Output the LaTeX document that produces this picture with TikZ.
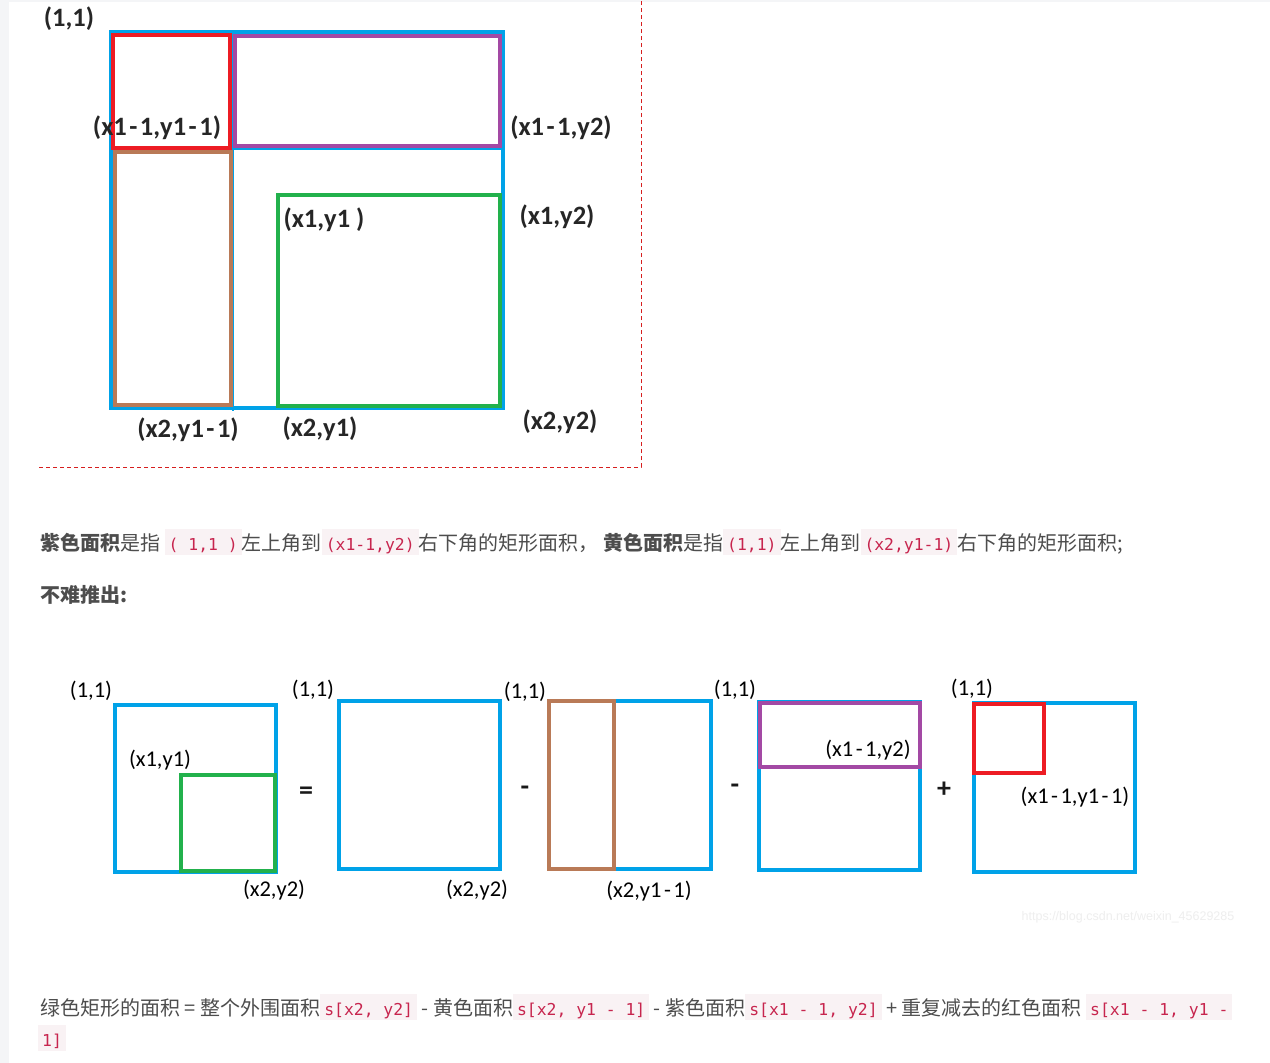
\documentclass[tikz,border=0pt]{standalone}
\usepackage{fontspec}
\setmainfont{Noto Sans CJK SC}
\newfontfamily\labelfont{Carlito}
\newfontfamily\codefont{DejaVu Sans Mono}
\newfontfamily\markfont{Liberation Sans}
\usetikzlibrary{calc}

\definecolor{paintblue}{RGB}{0,162,232}
\definecolor{paintred}{RGB}{237,28,36}
\definecolor{paintpurple}{RGB}{163,73,164}
\definecolor{paintbrown}{RGB}{185,122,87}
\definecolor{paintgreen}{RGB}{34,177,76}
\definecolor{txtgray}{RGB}{77,77,77}
\definecolor{codepink}{RGB}{199,37,78}
\definecolor{codebg}{RGB}{249,242,244}
\definecolor{stripgray}{RGB}{244,245,247}
\definecolor{markgray}{RGB}{238,238,238}
\definecolor{dashred}{RGB}{214,30,30}

\newcommand{\cd}[1]{{\setlength{\fboxsep}{0pt}\colorbox{codebg}{\hspace{4pt}\rule[-5pt]{0pt}{26pt}\textcolor{codepink}{\codefont\fontsize{16.4}{19}\selectfont #1}\hspace{4pt}}}}
\newcommand{\mh}{\kern2.5pt-\kern2.5pt}

\tikzset{
  blueedge/.style={draw=paintblue, line width=3.5pt},
  rededge/.style={draw=paintred, line width=3.5pt},
  purpleedge/.style={draw=paintpurple, line width=3.5pt},
  brownedge/.style={draw=paintbrown, line width=3.5pt},
  greenedge/.style={draw=paintgreen, line width=3.5pt},
  biglabel/.style={font=\labelfont\bfseries\fontsize{26.5}{30}\selectfont, text=black!85, inner sep=0pt},
  smalllabel/.style={font=\labelfont\fontsize{22.5}{26}\selectfont, text=black, inner sep=0pt},
  opsign/.style={font=\labelfont\bfseries\fontsize{28}{30}\selectfont, text=black!90, inner sep=0pt},
  textline/.style={font=\fontsize{20}{24}\selectfont, text=txtgray, inner sep=0pt, anchor=base west}
}

\begin{document}
\begin{tikzpicture}[x=1pt,y=-1pt]
    \useasboundingbox (0,0) rectangle (1270,1063);
    \fill[white] (0,0) rectangle (1270,1063);
    \fill[stripgray] (0,0) rectangle (9,1063);
    \fill[stripgray] (9,0) rectangle (1270,2);

    % big picture
    \draw[blueedge, line width=4pt] (111,32) rectangle (503,408);
    \draw[paintblue, line width=2pt] (233,32) -- (233,411);
    \draw[paintblue, line width=2.5pt] (231,149) -- (503,149);
    \draw[rededge] (113,35) rectangle (230,148);
    \draw[purpleedge] (235,36) rectangle (500,146);
    \draw[brownedge] (115,152) rectangle (231,405);
    \draw[greenedge] (278,195) rectangle (500,406);

    \node[biglabel] (topOne) at (69,19) {(1,1)};
    \node[biglabel] (topRed) at (157,128) {(x1\mh1,y1\mh1)};
    \node[biglabel] (topPurple) at (561,128) {(x1\mh1,y2)};
    \node[biglabel] (topGreen) at (324,220) {(x1,y1 )};
    \node[biglabel] (topRight) at (557,217) {(x1,y2)};
    \node[biglabel] (topBrown) at (188,430) {(x2,y1\mh1)};
    \node[biglabel] (topMid) at (320,429) {(x2,y1)};
    \node[biglabel] (topCorner) at (560,422) {(x2,y2)};

    \draw[dashred, line width=1pt, dash pattern=on 4pt off 3pt] (39,467) -- (641,467) -- (641,0);

    % text above the row
    \node[textline] (lineA) at (40,550) {\textbf{紫色面积}是指 \cd{( 1,1 )}左上角到\cd{(x1-1,y2)}右下角的矩形面积， \textbf{黄色面积}是指\cd{(1,1)}左上角到\cd{(x2,y1-1)}右下角的矩形面积;};
    \node[textline] (lineB) at (40,602) {\textbf{不难推出:}};

    % row of small pictures
    \draw[blueedge] (115,705) rectangle (276,872);
    \draw[greenedge] (181,775) rectangle (275,871);
    \node[smalllabel] (oneA) at (91,691) {(1,1)};
    \node[smalllabel] (startA) at (160,760) {(x1,y1)};
    \node[smalllabel] (endA) at (274,890) {(x2,y2)};
    \node[opsign] (eq) at (306,793) {=};

    \draw[blueedge] (339,701) rectangle (500,869);
    \node[smalllabel] (oneB) at (313,690) {(1,1)};
    \node[smalllabel] (endB) at (477,890) {(x2,y2)};
    \node[opsign] (minusA) at (525,791) {-};

    \draw[blueedge] (549,701) rectangle (711,869);
    \draw[brownedge] (549,701) rectangle (614,869);
    \node[smalllabel] (oneC) at (525,692) {(1,1)};
    \node[smalllabel] (endC) at (649,891) {(x2,y1\mh1)};
    \node[opsign] (minusB) at (735,789) {-};

    \draw[blueedge] (759,702) rectangle (920,870);
    \draw[purpleedge] (760,703) rectangle (920,767);
    \node[smalllabel] (oneD) at (735,690) {(1,1)};
    \node[smalllabel] (endD) at (868,750) {(x1\mh1,y2)};
    \node[opsign] (plus) at (944,790) {+};

    \draw[blueedge] (974,703) rectangle (1135,872);
    \draw[rededge] (974,704) rectangle (1044,773);
    \node[smalllabel] (oneE) at (972,689) {(1,1)};
    \node[smalllabel] (endE) at (1075,797) {(x1\mh1,y1\mh1)};

    \node[font=\markfont\fontsize{12.5}{14}\selectfont, text=markgray, inner sep=0pt] (mark) at (1128,917) {https://blog.csdn.net/weixin\_45629285};

    % text below the row
    \node[textline] (lineC) at (40,1015) {绿色矩形的面积 = 整个外围面积\cd{s[x2, y2]} - 黄色面积\cd{s[x2, y1 - 1]} - 紫色面积\cd{s[x1 - 1, y2]} + 重复减去的红色面积 \cd{s[x1 - 1, y1 -}};
    \node[textline] (lineD) at (38,1046) {\cd{1]}};

\end{tikzpicture}
\end{document}
